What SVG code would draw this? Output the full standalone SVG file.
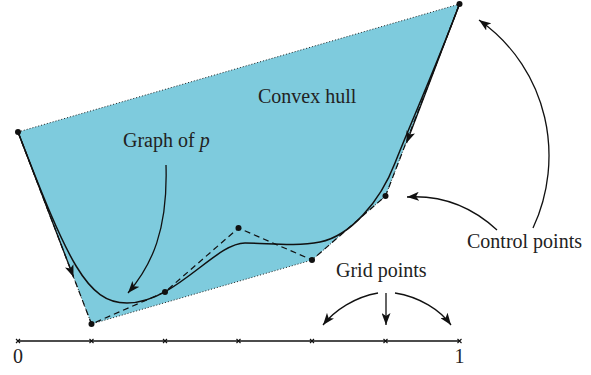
<svg xmlns="http://www.w3.org/2000/svg" width="591" height="375" viewBox="0 0 591 375">
<defs>
<marker id="ah" markerUnits="userSpaceOnUse" markerWidth="13" markerHeight="9" refX="12" refY="4.5" orient="auto">
<path d="M0,0 L12,4.5 L0,9 L3,4.5 Z" fill="#111"/>
</marker>
</defs>
<style>
text{font-family:"Liberation Serif","Times New Roman",serif;font-size:20px;fill:#222}
.hull{fill:#7ecbdd;stroke:#222;stroke-width:1;stroke-dasharray:1 2}
.ctl{fill:none;stroke:#111;stroke-width:1.2;stroke-dasharray:6 4}
.curve{fill:none;stroke:#111;stroke-width:1.5}
.arr{fill:none;stroke:#111;stroke-width:1.3;marker-end:url(#ah)}
.axis{fill:none;stroke:#111;stroke-width:1.3}
.tick{stroke:#111;stroke-width:1.1}
.dot{fill:#111}
</style>
<g id="hull">
<polygon class="hull" points="18,132 459.5,4 385.5,196 312,260 91.5,324"/>
</g>
<g id="control-polygon">
<polyline class="ctl" points="18,132 91.5,324 165,292 238.5,228 312,260 385.5,196 459.5,4"/>
</g>
<g id="graph">
<path class="curve" d="M18,132 C68,262 87,303 127,303 C175,303 215,243 245,243 C268,243 295,247 320,242 C350,236 380,202 395,163 C407,132 438,62 459.5,4"/>
</g>
<g id="connectors">
<line class="arr" x1="18" y1="132" x2="73.5" y2="277"/>
<line class="arr" x1="459.5" y1="4" x2="406.5" y2="143"/>
<path class="arr" d="M166,165 C168,230 152,265 128,293"/>
<path class="arr" d="M533,228 C565,160 550,70 479,20"/>
<path class="arr" d="M497,230 C470,205 440,195 407,197"/>
<path class="arr" d="M378,293 C355,297 335,310 323,325"/>
<path class="arr" d="M386,293 L386,325"/>
<path class="arr" d="M395,293 C420,297 440,310 451,325"/>
</g>
<g id="control-points">
<circle class="dot" cx="18" cy="132" r="3"/>
<circle class="dot" cx="91.5" cy="324" r="3"/>
<circle class="dot" cx="165" cy="292" r="3"/>
<circle class="dot" cx="238.5" cy="228" r="3"/>
<circle class="dot" cx="312" cy="260" r="3"/>
<circle class="dot" cx="385.5" cy="196" r="3"/>
<circle class="dot" cx="459.5" cy="4" r="3"/>
</g>
<g id="axis">
<line class="axis" x1="18" y1="341" x2="459.5" y2="341"/>
<g class="tick">
<path d="M16,339 l4,4 M16,343 l4,-4"/>
<path d="M89.5,339 l4,4 M89.5,343 l4,-4"/>
<path d="M163,339 l4,4 M163,343 l4,-4"/>
<path d="M236.5,339 l4,4 M236.5,343 l4,-4"/>
<path d="M310,339 l4,4 M310,343 l4,-4"/>
<path d="M383.5,339 l4,4 M383.5,343 l4,-4"/>
<path d="M457.5,339 l4,4 M457.5,343 l4,-4"/>
</g>
</g>
<g id="labels">
<text x="258" y="103">Convex hull</text>
<text x="123" y="147">Graph of <tspan font-style="italic">p</tspan></text>
<text x="467" y="248">Control points</text>
<text x="336" y="277">Grid points</text>
<text x="18" y="363" text-anchor="middle">0</text>
<text x="459.5" y="363" text-anchor="middle">1</text>
</g>
</svg>
